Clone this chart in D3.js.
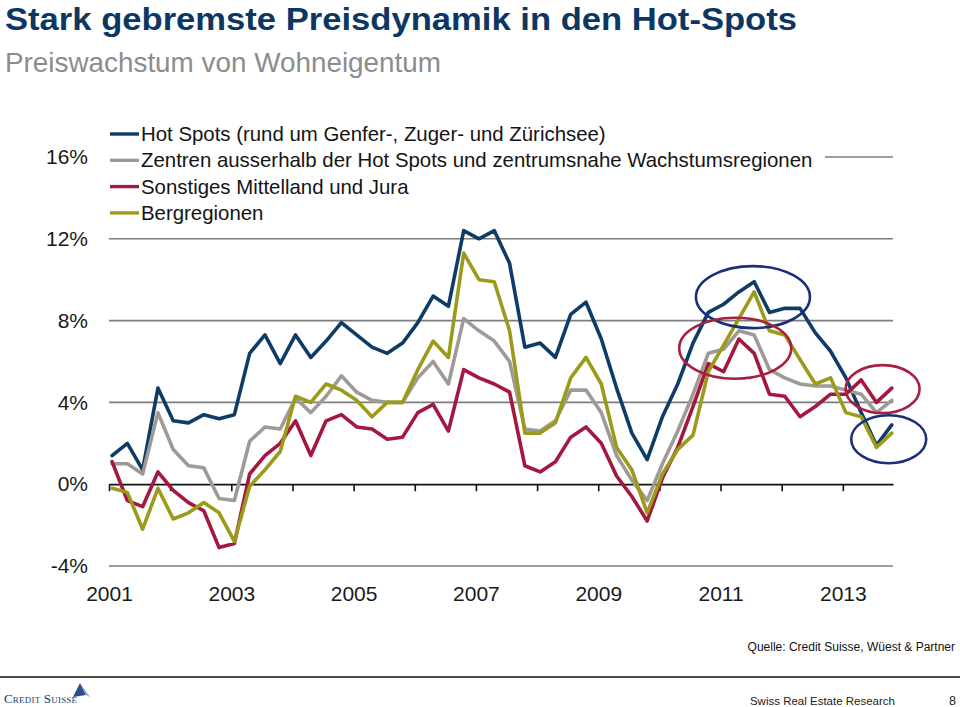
<!DOCTYPE html>
<html>
<head>
<meta charset="utf-8">
<script src="https://cdn.jsdelivr.net/npm/d3@7/dist/d3.min.js"></script>
<style>
html, body { margin: 0; padding: 0; background: #fff; }
svg { display: block; font-family: "Liberation Sans", Arial, Helvetica, sans-serif; }
</style>
</head>
<body>
<svg id="chart" width="960" height="707"></svg>
<script>
// ---------- data ----------
const titleText = "Stark gebremste Preisdynamik in den Hot-Spots";
const subtitleText = "Preiswachstum von Wohneigentum";
const seriesNames = [
  "Hot Spots (rund um Genfer-, Zuger- und Zürichsee)",
  "Zentren ausserhalb der Hot Spots und zentrumsnahe Wachstumsregionen",
  "Sonstiges Mittelland und Jura",
  "Bergregionen"
];
// quarterly observations 2001 Q1 .. 2013 Q4 (year-on-year growth, %)
const firstYear = 2001;
const hotSpots = [1.4, 2.0, 0.7, 4.7, 3.1, 3.0, 3.4, 3.2, 3.4, 6.4, 7.3, 5.9, 7.3, 6.2, 7.0, 7.9, 7.3, 6.7, 6.4, 6.9, 7.9, 9.2, 8.7, 12.4, 12.0, 12.4, 10.8, 6.7, 6.9, 6.2, 8.3, 8.9, 7.1, 4.7, 2.5, 1.2, 3.3, 4.9, 6.9, 8.4, 8.8, 9.4, 9.9, 8.4, 8.6, 8.6, 7.4, 6.5, 5.2, 3.5, 1.9, 2.9];
const zentren = [1.0, 1.0, 0.5, 3.5, 1.7, 0.9, 0.8, -0.7, -0.8, 2.1, 2.8, 2.7, 4.2, 3.5, 4.3, 5.3, 4.5, 4.1, 4.0, 4.0, 5.2, 6.0, 4.9, 8.1, 7.5, 7.0, 6.0, 2.7, 2.6, 3.1, 4.6, 4.6, 3.5, 1.4, 0.2, -0.8, 1.0, 2.6, 4.4, 6.4, 6.6, 7.5, 7.3, 5.6, 5.2, 4.9, 4.8, 4.8, 4.6, 4.4, 3.5, 4.1];
const mittelland = [1.1, -0.8, -1.1, 0.6, -0.3, -0.9, -1.3, -3.1, -2.9, 0.5, 1.4, 2.0, 3.1, 1.4, 3.1, 3.4, 2.8, 2.7, 2.2, 2.3, 3.5, 3.9, 2.6, 5.6, 5.2, 4.9, 4.5, 0.9, 0.6, 1.1, 2.3, 2.8, 2.0, 0.4, -0.6, -1.8, 0.3, 1.8, 3.8, 5.9, 5.5, 7.1, 6.4, 4.4, 4.3, 3.3, 3.8, 4.4, 4.4, 5.1, 4.0, 4.7];
const bergregionen = [-0.2, -0.4, -2.2, -0.2, -1.7, -1.4, -0.9, -1.4, -2.8, -0.1, 0.7, 1.6, 4.3, 4.0, 4.9, 4.6, 4.1, 3.3, 4.0, 4.0, 5.6, 7.0, 6.2, 11.3, 10.0, 9.9, 7.5, 2.5, 2.5, 3.0, 5.2, 6.2, 4.9, 1.8, 0.7, -1.4, 0.5, 1.7, 2.4, 5.5, 6.8, 8.1, 9.4, 7.5, 7.3, 6.1, 4.9, 5.2, 3.5, 3.3, 1.8, 2.5];
const yTicks = [-4, 0, 4, 8, 12, 16];
const xTickYears = [2001, 2002, 2003, 2004, 2005, 2006, 2007, 2008, 2009, 2010, 2011, 2012, 2013];
const xLabelYears = [2001, 2003, 2005, 2007, 2009, 2011, 2013];
// highlight ellipses (centre in data units: year, %)
const highlightYears = [2011.53, 2011.24, 2013.65, 2013.75];
const highlightValues = [9.15, 6.65, 4.65, 2.2];
const sourceText = "Quelle: Credit Suisse, Wüest & Partner";
const footerText = "Swiss Real Estate Research";
const pageNumber = "8";

// ---------- styles ----------
const colors = ["#0f3c66", "#9f9a96", "#a4173e", "#9b9a1b"];
const hlColors = ["#1b2f78", "#a81f40", "#a81f40", "#1b2f78"];
const hlRadii = [[57, 31], [56, 30.5], [37, 24], [37.5, 24]];

const svg = d3.select("#chart");
const x = d3.scaleLinear().domain([2001, 2013.82]).range([109, 893]);
const y = d3.scaleLinear().domain([-4, 16]).range([566, 157]);
const seriesData = [hotSpots, zentren, mittelland, bergregionen];
const tOf = i => firstYear + 0.05 + i / 4;

// title
svg.append("text").attr("x", 5).attr("y", 30)
  .attr("font-size", 31).attr("font-weight", "bold").attr("fill", "#0c3762")
  .attr("textLength", 792).attr("lengthAdjust", "spacingAndGlyphs")
  .text(titleText);
svg.append("text").attr("x", 5).attr("y", 72)
  .attr("font-size", 28).attr("fill", "#8c8c8c")
  .attr("textLength", 436).attr("lengthAdjust", "spacingAndGlyphs")
  .text(subtitleText);

// gridlines
const gridG = svg.append("g");
gridG.selectAll("line").data(yTicks.filter(d => d !== 0)).join("line")
  .attr("x1", x.range()[0]).attr("x2", x.range()[1])
  .attr("y1", d => y(d)).attr("y2", d => y(d))
  .attr("stroke", "#7d7d7d").attr("stroke-width", 1.6);

// zero axis with yearly ticks
const zeroAxis = d3.axisBottom(x).tickValues(xTickYears).tickFormat("").tickSize(7).tickSizeOuter(0);
const zg = svg.append("g").attr("transform", `translate(0,${y(0)})`).call(zeroAxis);
zg.select(".domain").attr("stroke", "#111").attr("stroke-width", 1.8);
zg.selectAll(".tick line").attr("stroke", "#111").attr("stroke-width", 1.6);

// x labels (bottom)
const labelAxis = d3.axisBottom(x).tickValues(xLabelYears).tickFormat(d3.format("d")).tickSize(0).tickPadding(20);
const lg = svg.append("g").attr("transform", `translate(0,${y(-4)})`).call(labelAxis);
lg.select(".domain").remove();
lg.selectAll("text").attr("font-size", 21).attr("fill", "#1a1a1a")
  .attr("font-family", "'Liberation Sans', Arial, sans-serif");

// y labels
const yAxis = d3.axisLeft(y).tickValues(yTicks).tickFormat(d => d + "%").tickSize(0).tickPadding(0);
const yg = svg.append("g").attr("transform", "translate(88,0)").call(yAxis);
yg.select(".domain").remove();
yg.selectAll("text").attr("font-size", 21).attr("fill", "#1a1a1a")
  .attr("font-family", "'Liberation Sans', Arial, sans-serif");

// legend background (hides the 16% gridline behind the legend)
svg.append("rect").attr("x", 104).attr("y", 118).attr("width", 721).attr("height", 106).attr("fill", "#fff");

// lines
const line = d3.line().x((d, i) => x(tOf(i))).y(d => y(d));
svg.append("g").selectAll("path").data(seriesData).join("path")
  .attr("d", d => line(d))
  .attr("fill", "none")
  .attr("stroke", (d, i) => colors[i])
  .attr("stroke-width", 3.6)
  .attr("stroke-linejoin", "round")
  .attr("stroke-linecap", "round");

// highlight ellipses
svg.append("g").selectAll("ellipse").data(highlightYears).join("ellipse")
  .attr("cx", d => x(d))
  .attr("cy", (d, i) => y(highlightValues[i]))
  .attr("rx", (d, i) => hlRadii[i][0])
  .attr("ry", (d, i) => hlRadii[i][1])
  .attr("fill", "none")
  .attr("stroke", (d, i) => hlColors[i])
  .attr("stroke-width", 2.6);

// legend
const leg = svg.append("g");
const legRows = leg.selectAll("g").data(seriesNames).join("g")
  .attr("transform", (d, i) => `translate(110,${134 + i * 26.3})`);
legRows.append("line").attr("x1", 0).attr("x2", 29).attr("y1", 0).attr("y2", 0)
  .attr("stroke", (d, i) => colors[i]).attr("stroke-width", 3.4);
legRows.append("text").attr("x", 31).attr("y", 0).attr("dy", "0.35em")
  .attr("font-size", 20.4).attr("fill", "#141414").text(d => d);

// footer
svg.append("text").attr("x", 955).attr("y", 651).attr("text-anchor", "end")
  .attr("font-size", 12).attr("fill", "#111").text(sourceText);
svg.append("line").attr("x1", 0).attr("x2", 960).attr("y1", 677).attr("y2", 677)
  .attr("stroke", "#111").attr("stroke-width", 1.6);
svg.append("text").attr("x", 895).attr("y", 705).attr("text-anchor", "end")
  .attr("font-size", 11.5).attr("fill", "#222").text(footerText);
svg.append("text").attr("x", 956).attr("y", 705).attr("text-anchor", "end")
  .attr("font-size", 12.5).attr("fill", "#222").text(pageNumber);

// Credit Suisse logo
const logo = svg.append("g");
logo.append("text").attr("x", 4).attr("y", 703)
  .attr("font-family", "'Liberation Serif', 'Times New Roman', serif")
  .attr("font-size", 13).attr("fill", "#1d3c70")
  .attr("font-variant", "small-caps").attr("letter-spacing", 0.2)
  .text("Credit Suisse");
logo.append("path").attr("d", "M73,697 L80,683 L86,695 Z").attr("fill", "#2a4f8a");
logo.append("path").attr("d", "M80,683 L86,695 L90,697 Z").attr("fill", "#8fa6c8");
</script>
</body>
</html>
